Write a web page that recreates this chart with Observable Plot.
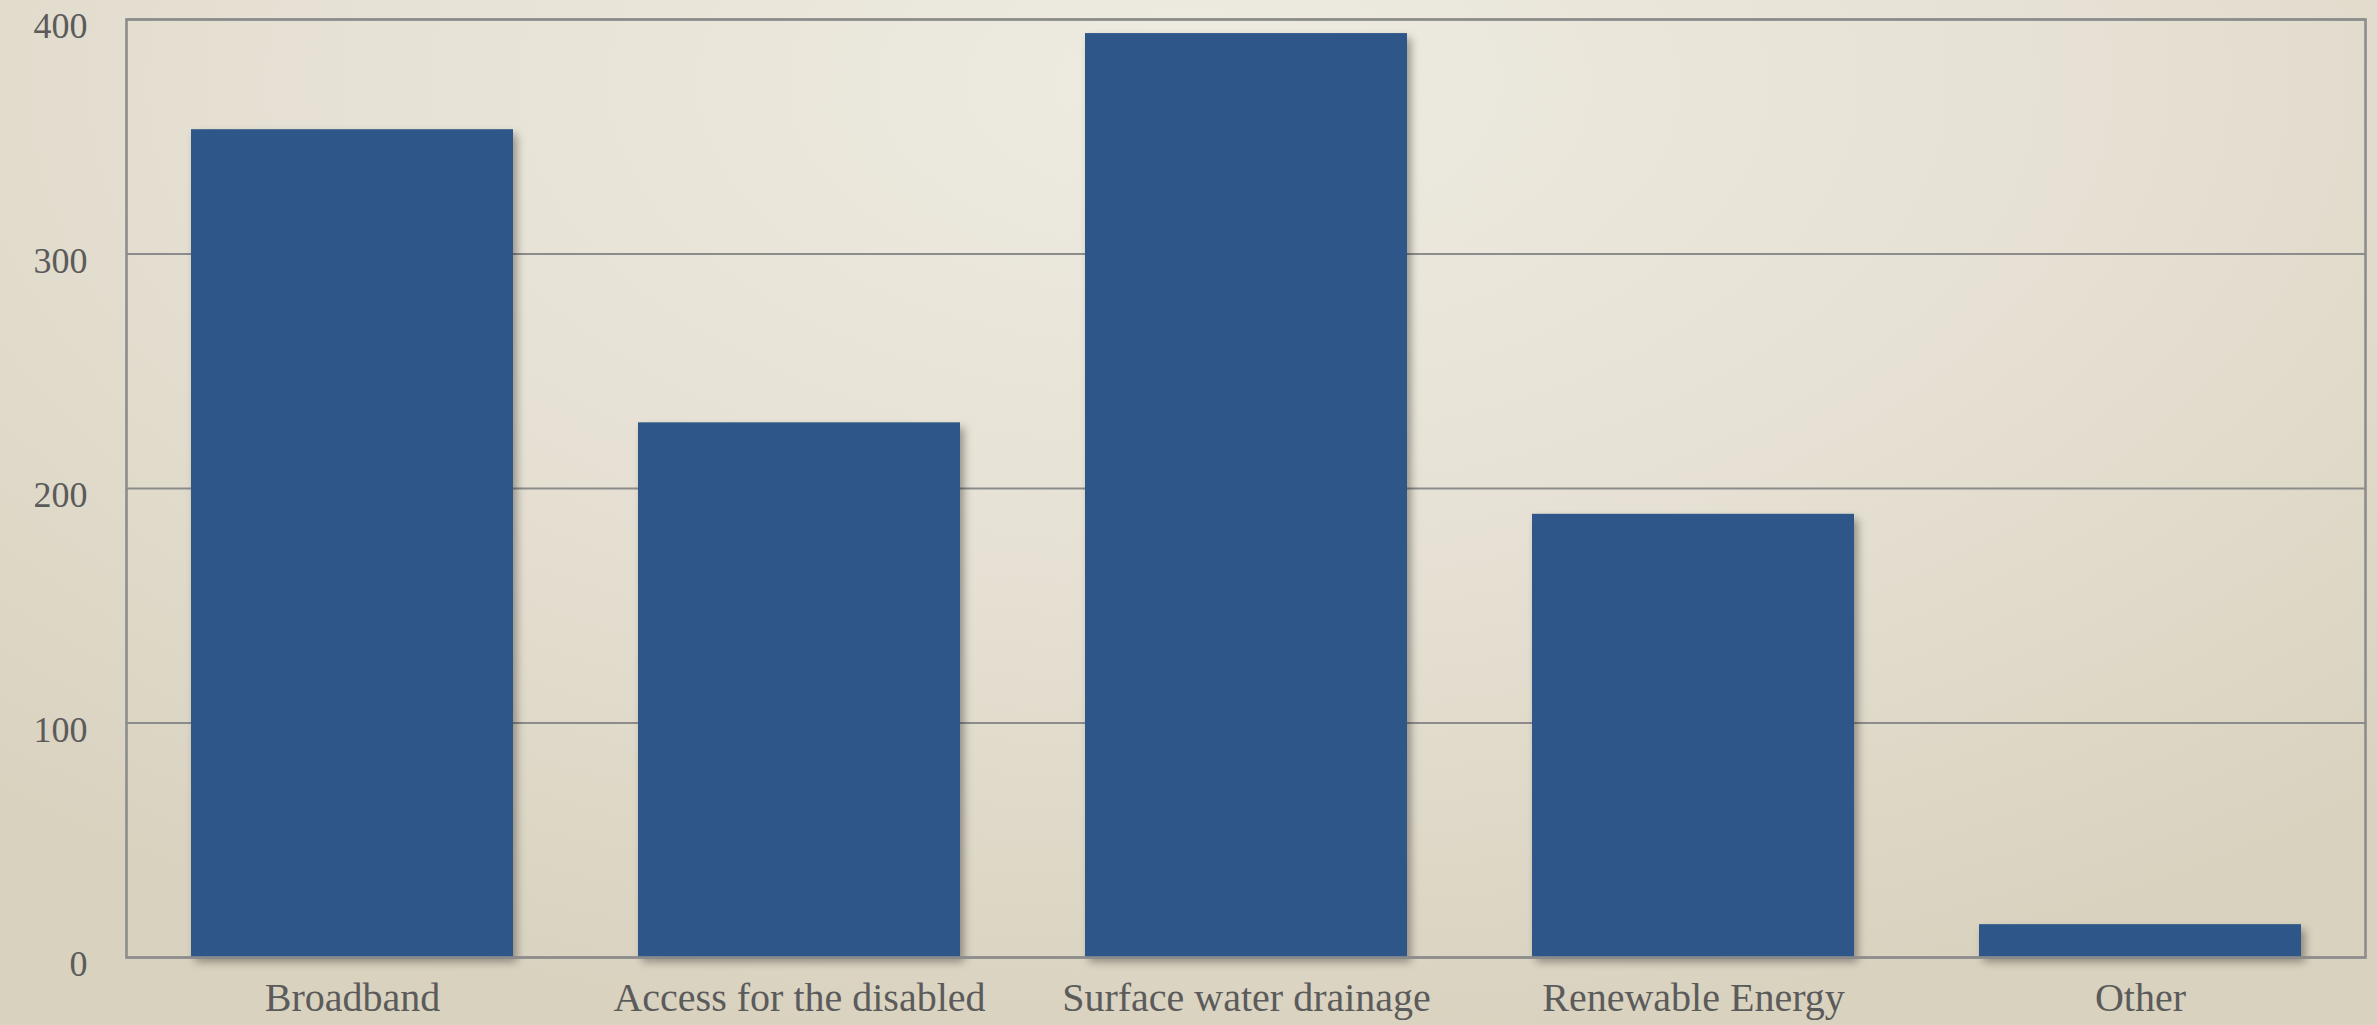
<!DOCTYPE html>
<html>
<head>
<meta charset="utf-8">
<script src="https://cdn.jsdelivr.net/npm/d3@7"></script>
<script src="https://cdn.jsdelivr.net/npm/@observablehq/plot@0.6"></script>
<style>
  html, body { margin: 0; padding: 0; }
  body {
    width: 2377px; height: 1025px; overflow: hidden;
    background: radial-gradient(ellipse 75% 95% at 50% 8%, #eeebe1 0%, #e6e1d4 50%, #d9d2bf 100%);
  }
</style>
</head>
<body>
<div id="chart"></div>
<script>
const categories = ["Broadband", "Access for the disabled", "Surface water drainage", "Renewable Energy", "Other"];
const values = [353, 228, 394, 189, 14];
const yTicks = [0, 100, 200, 300, 400];

const data = categories.map((c, i) => ({category: c, value: values[i]}));

const textColor = "#5b5b5b";
const lineColor = "#8c8c8c";
const barColor = "#2d5789";

const chart = Plot.plot({
  width: 2377,
  height: 1025,
  marginLeft: 126,
  marginRight: 12,
  marginTop: 19,
  marginBottom: 68,
  style: {background: "transparent", fontFamily: "'Liberation Serif', serif", color: textColor},
  x: {domain: categories, paddingInner: 0.28, paddingOuter: 0.14, label: null},
  y: {domain: [0, 400], label: null},
  marks: [
    Plot.ruleY(yTicks, {stroke: lineColor, strokeWidth: 2.2, strokeOpacity: 1}),
    Plot.barY(data, {x: "category", y: "value", fill: barColor}),
    Plot.frame({stroke: lineColor, strokeWidth: 2.6}),
    Plot.axisY({ticks: yTicks, tickSize: 0, tickPadding: 39, fontSize: 36, dy: 7, fill: textColor, label: null, tickFormat: d => String(d)}),
    Plot.axisX({tickSize: 0, tickPadding: 25, fontSize: 40, fill: textColor, label: null})
  ]
});

const svg = d3.select(chart);
const defs = svg.insert("defs", ":first-child");
const f = defs.append("filter").attr("id", "barShadow").attr("x", "-10%").attr("y", "-10%").attr("width", "130%").attr("height", "130%");
f.append("feDropShadow").attr("dx", 4).attr("dy", 5).attr("stdDeviation", 4).attr("flood-color", "#000").attr("flood-opacity", 0.35);
svg.selectAll("g[aria-label='bar']").attr("filter", "url(#barShadow)");

document.getElementById("chart").appendChild(chart);
</script>
</body>
</html>
